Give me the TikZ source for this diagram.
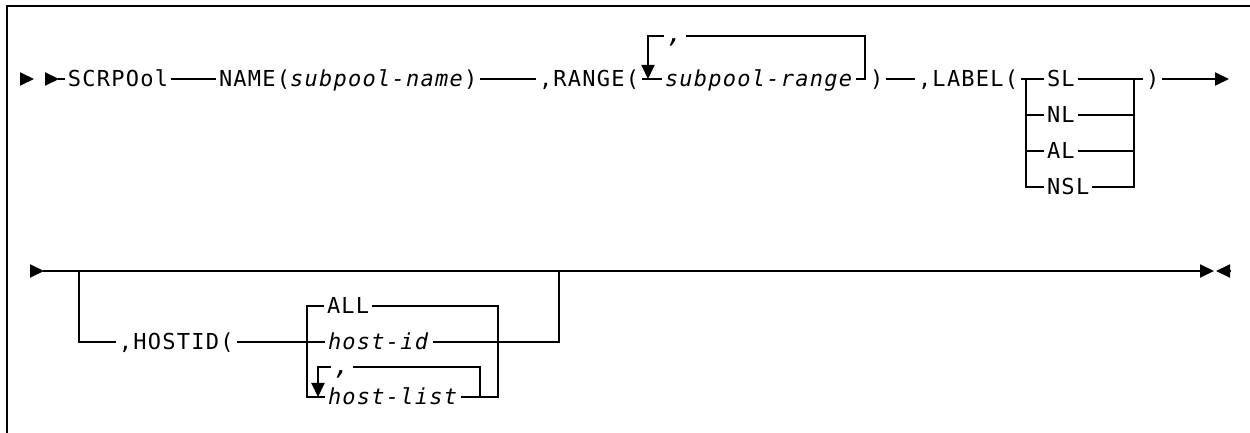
\documentclass[tikz,border=0pt]{standalone}
\usepackage{fontspec}
\newfontfamily\rrfont{DejaVu Sans Mono}[LetterSpace=5.7,ItalicFont={DejaVu Sans Mono Oblique}]
\usetikzlibrary{arrows.meta}
\begin{document}
\begin{tikzpicture}[x=0.5pt,y=-0.5pt,line width=1pt,
  tok/.style={font=\rrfont\fontsize{11pt}{13pt}\selectfont,anchor=west,inner xsep=1pt,inner ysep=0pt,text height=8pt,text depth=0pt},
  loopsep/.style={font=\rrfont\itshape\fontsize{13pt}{15pt}\selectfont,anchor=north,inner sep=0pt,minimum width=10pt,text height=3pt,text depth=2pt},
  arr/.style={-{Triangle[length=7pt,width=6.5pt]}},
  rarr/.style={{Triangle[length=7pt,width=6.5pt]}-}]
  \useasboundingbox (0,0) rectangle (1250,433);
  \draw (1250,6) -- (7,6) -- (7,433);

  % first line
  \node[tok] (scrpool) at (65,79) {SCRPOol};
  \node[tok] (name) at (216,79) {NAME(\textit{subpool-name})};
  \node[tok] (range) at (536,79) {,RANGE(};
  \node[tok] (subrange) at (662,79) {\textit{subpool-range}};
  \node[loopsep] (c1) at (675,36) {,};
  \node[tok] (rp1) at (867,79) {)};
  \node[tok] (label) at (915,79) {,LABEL(};
  \node[tok] (sl) at (1044,79) {SL};
  \node[tok] (nl) at (1044,115) {NL};
  \node[tok] (al) at (1044,151) {AL};
  \node[tok] (nsl) at (1044,187) {NSL};
  \node[tok] (rp2) at (1143,79) {)};
  \coordinate (in1) at (21,79);
  \coordinate (out1) at (1229,79);

  \draw[arr] (in1) -- ++(13,0);
  \draw[arr] (45,79) -- (59,79);
  \draw (58,79) -- (scrpool.west);
  \draw (scrpool.east) -- (name.west);
  \draw (name.east) -- (range.west);
  \draw (range.east) -- (subrange.west);
  \draw (subrange.east) -- (865,79) |- (c1.north east);
  \draw[arr] (c1.north west) -| (648,79);
  \draw (rp1.east) -- (label.west);
  \draw (label.east) -- (sl.west);
  \draw (sl.east) -- (rp2.west);
  \foreach \c in {nl,al,nsl} {
    \draw (1026,79) |- (\c.west);
    \draw (\c.east) -| (1134,79);
  }
  \draw[arr] (rp2.east) -- (out1);

  % second line
  \node[tok] (hostid) at (116,342) {,HOSTID(};
  \node[tok] (all) at (324,306) {ALL};
  \node[tok] (hid) at (325,342) {\textit{host-id}};
  \node[tok] (hlist) at (325,397) {\textit{host-list}};
  \node[loopsep] (c2) at (342,367) {,};
  \coordinate (in2) at (30,271);
  \coordinate (out2) at (1214,271);

  \draw[arr] (in2) -- ++(14,0);
  \draw[arr] (43,271) -- (out2);
  \draw[rarr] (1216,271) -- (1230,271);
  \draw (79,271) |- (hostid.west);
  \draw (hostid.east) -- (hid.west);
  \draw (hid.east) -| (559,271);
  \draw (all.west) -| (307,397) -- (hlist.west);
  \draw (all.east) -| (498,397) -- (hlist.east);
  \draw (480,397) |- (c2.north east);
  \draw[arr] (c2.north west) -| (318,397);
\end{tikzpicture}
\end{document}
